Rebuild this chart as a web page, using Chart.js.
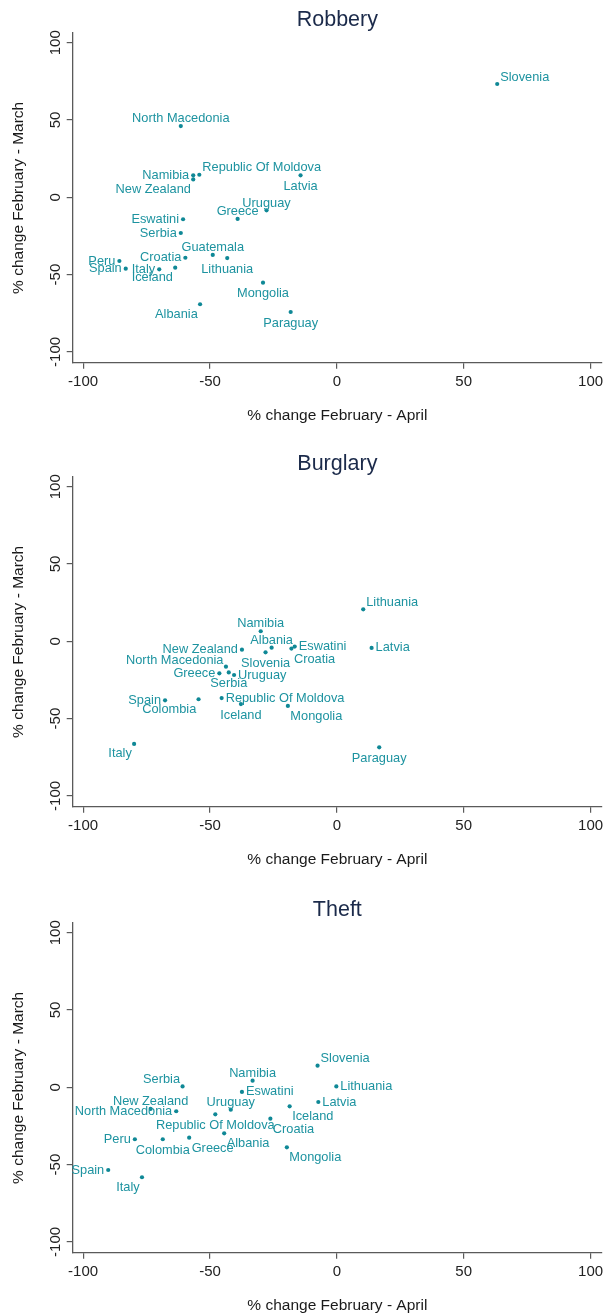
<!DOCTYPE html>
<html>
<head>
<meta charset="utf-8">
<script src="https://cdn.jsdelivr.net/npm/chart.js@4.4.1/dist/chart.umd.min.js"></script>
<style>
  html, body { margin: 0; padding: 0; background: #ffffff; overflow: hidden; width: 605px; height: 1316px; }
  .panel { position: absolute; left: 0; width: 605px; height: 445px; }
  canvas { display: block; }
</style>
</head>
<body>
<div class="panel" style="top:0px"><canvas id="robbery" width="605" height="445"></canvas></div>
<div class="panel" style="top:444px"><canvas id="burglary" width="605" height="445"></canvas></div>
<div class="panel" style="top:890px"><canvas id="theft" width="605" height="445"></canvas></div>
<script>
// Axis ticks shared by both axes of every panel
const axisTicks = [-100, -50, 0, 50, 100];

// Robbery: % change February-April (x) and February-March (y)
const robberyCountries = ['Slovenia', 'North Macedonia', 'Namibia', 'New Zealand', 'Republic Of Moldova',
  'Latvia', 'Uruguay', 'Greece', 'Eswatini', 'Serbia', 'Guatemala', 'Croatia', 'Lithuania', 'Peru',
  'Spain', 'Italy', 'Iceland', 'Mongolia', 'Albania', 'Paraguay'];
const robberyFebApr = [63.2, -61.5, -56.6, -56.6, -54.2, -14.3, -27.7, -39.1, -60.6, -61.5, -48.9, -59.7,
  -43.2, -85.7, -83.2, -70.0, -63.7, -29.1, -53.9, -18.2];
const robberyFebMar = [73.3, 46.1, 14.2, 11.6, 14.6, 14.2, -8.4, -14.0, -14.2, -23.1, -37.3, -39.1,
  -39.3, -41.2, -46.2, -46.6, -45.5, -55.2, -69.2, -74.2];

// Burglary
const burglaryCountries = ['Lithuania', 'Namibia', 'Albania', 'Slovenia', 'New Zealand', 'Eswatini',
  'Croatia', 'Latvia', 'North Macedonia', 'Greece', 'Serbia', 'Uruguay', 'Spain', 'Colombia',
  'Republic Of Moldova', 'Iceland', 'Mongolia', 'Italy', 'Paraguay'];
const burglaryFebApr = [10.4, -30.0, -25.7, -28.1, -37.4, -16.6, -17.9, 13.7, -43.7, -46.3, -42.6, -40.5,
  -67.7, -54.5, -45.4, -37.8, -19.3, -79.9, 16.7];
const burglaryFebMar = [20.7, 6.5, -4.1, -7.1, -5.4, -3.4, -4.7, -4.3, -16.4, -20.7, -20.1, -21.8,
  -38.2, -37.5, -36.7, -40.6, -41.8, -66.4, -68.6];

// Theft
const theftCountries = ['Slovenia', 'Serbia', 'Namibia', 'Lithuania', 'Eswatini', 'Iceland', 'Latvia',
  'New Zealand', 'North Macedonia', 'Uruguay', 'Republic Of Moldova', 'Croatia', 'Albania', 'Peru',
  'Colombia', 'Greece', 'Mongolia', 'Spain', 'Italy'];
const theftFebApr = [-7.6, -60.8, -33.2, -0.2, -37.4, -18.6, -7.3, -73.4, -63.3, -41.8, -47.9, -26.2,
  -44.4, -79.6, -68.6, -58.2, -19.7, -90.1, -76.8];
const theftFebMar = [14.0, 0.6, 4.3, 0.6, -3.0, -12.3, -9.5, -14.0, -15.5, -14.5, -17.5, -20.3,
  -29.8, -33.6, -33.6, -32.6, -38.8, -53.5, -58.2];

// Clock position of each marker label (same order as the country lists)
const robberyLabelClock = [2, 12, 9, 7, 2, 6, 12, 12, 9, 9, 12, 9, 6, 9, 9, 9, 7, 6, 7, 6];
const burglaryLabelClock = [2, 12, 12, 6, 9, 3, 4, 3, 10, 9, 6, 3, 9, 7, 3, 6, 4, 7, 6];
const theftLabelClock = [2, 10, 12, 3, 3, 4, 3, 12, 9, 12, 6, 4, 4, 9, 6, 4, 4, 9, 7];

const FONT = '"Liberation Sans", Arial, Helvetica, sans-serif';
const DOT_COLOR = '#0f8896';
const LABEL_COLOR = '#1d93a0';
const AXIS_COLOR = '#5a5a5a';
const TEXT_COLOR = '#222222';

// Offset of a marker label from its marker for each clock position
const clockOffsets = {
  12: { dx: 0, dy: -7.3, align: 'center' },
  2: { dx: 3, dy: -7, align: 'left' },
  3: { dx: 4, dy: 0, align: 'left' },
  4: { dx: 2.5, dy: 10.5, align: 'left' },
  6: { dx: 0, dy: 11, align: 'center' },
  7: { dx: -2.3, dy: 10, align: 'right' },
  9: { dx: -4, dy: 0, align: 'right' },
  10: { dx: -2.5, dy: -6.5, align: 'right' }
};

const markerLabels = {
  id: 'markerLabels',
  afterDatasetsDraw(chart, args, opts) {
    const ctx = chart.ctx;
    const meta = chart.getDatasetMeta(0);
    ctx.save();
    ctx.font = '12.8px ' + FONT;
    ctx.fillStyle = opts.color;
    ctx.textBaseline = 'middle';
    meta.data.forEach((pt, i) => {
      const c = clockOffsets[opts.clock[i]];
      ctx.textAlign = c.align;
      ctx.fillText(opts.labels[i], pt.x + c.dx, pt.y + c.dy);
    });
    ctx.restore();
  }
};

function axisOptions(isX) {
  return {
    type: 'linear',
    min: isX ? -104.1 : -107,
    max: isX ? 104.5 : 106.3,
    afterBuildTicks: s => { s.ticks = axisTicks.map(v => ({ value: v })); },
    afterFit: s => {
      if (isX) { s.height = 82.3; s.paddingLeft = 0; s.paddingRight = 0; }
      else { s.width = 72.7; s.paddingTop = 0; s.paddingBottom = 0; }
    },
    grid: { display: true, drawOnChartArea: false, drawTicks: true, tickLength: 6, color: AXIS_COLOR, lineWidth: 1.2 },
    border: { display: true, color: AXIS_COLOR, width: 1.3 },
    ticks: isX
      ? { padding: 4, color: TEXT_COLOR, font: { family: FONT, size: 15 }, minRotation: 0, maxRotation: 0, autoSkip: false }
      : { padding: -4.5, color: TEXT_COLOR, font: { family: FONT, size: 15 }, minRotation: 90, maxRotation: 90, crossAlign: 'center', autoSkip: false },
    title: isX
      ? { display: true, text: '% change February - April', color: '#1a1a1a', font: { family: FONT, size: 15.5 }, padding: { top: 0, bottom: 19.6 } }
      : { display: true, text: '% change February - March', color: '#1a1a1a', font: { family: FONT, size: 15.5 }, padding: { top: 9, bottom: 0 } }
  };
}

function makePanel(id, title, countries, xs, ys, clocks) {
  new Chart(document.getElementById(id), {
    type: 'scatter',
    data: {
      datasets: [{
        data: xs.map((x, i) => ({ x: x, y: ys[i] })),
        pointRadius: 2.1,
        pointHoverRadius: 2.1,
        pointBackgroundColor: DOT_COLOR,
        pointBorderWidth: 0,
        pointBorderColor: DOT_COLOR
      }]
    },
    options: {
      responsive: false,
      animation: false,
      devicePixelRatio: 1,
      events: [],
      layout: { padding: { left: 0, right: 3, top: 0, bottom: 0 } },
      plugins: {
        legend: { display: false },
        tooltip: { enabled: false },
        title: {
          display: true, text: title, fullSize: false, color: '#1b2a4a',
          font: { family: FONT, size: 21.5, weight: 'normal' },
          padding: { top: 7.2, bottom: 0 }
        },
        markerLabels: { labels: countries, clock: clocks, color: LABEL_COLOR }
      },
      scales: { x: axisOptions(true), y: axisOptions(false) }
    },
    plugins: [markerLabels]
  });
}

makePanel('robbery', 'Robbery', robberyCountries, robberyFebApr, robberyFebMar, robberyLabelClock);
makePanel('burglary', 'Burglary', burglaryCountries, burglaryFebApr, burglaryFebMar, burglaryLabelClock);
makePanel('theft', 'Theft', theftCountries, theftFebApr, theftFebMar, theftLabelClock);
</script>
</body>
</html>
